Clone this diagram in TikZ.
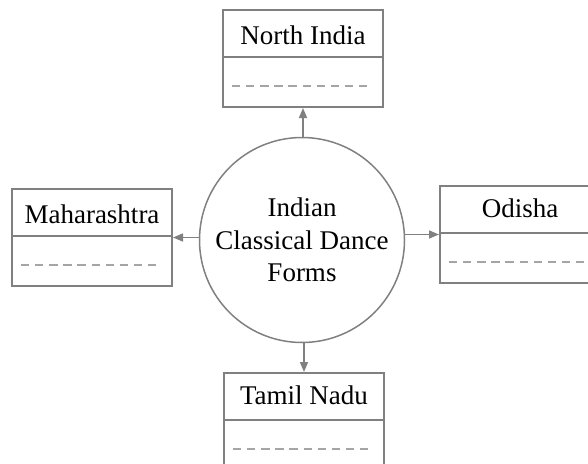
\documentclass[tikz,border=0pt]{standalone}
\usepackage{fontspec}
\setmainfont{Liberation Serif}
\usetikzlibrary{arrows.meta}
\definecolor{linegray}{RGB}{128,128,128}
\definecolor{dashgray}{RGB}{165,165,165}
\begin{document}
\begin{tikzpicture}[x=1pt,y=-1pt,
  boxshape/.style={draw=linegray, line width=2pt, minimum width=160pt, minimum height=97pt, inner sep=0pt, anchor=north west},
  lbl/.style={font=\fontsize{27}{32.5}\selectfont, inner sep=0pt, anchor=base},
  hub/.style={circle, draw=linegray, line width=1.5pt, minimum size=205pt, inner sep=0pt, align=center, font=\fontsize{27}{32.5}\selectfont},
  conn/.style={draw=linegray, line width=1.5pt, -{Triangle[length=10pt,width=8pt]}},
  divider/.style={draw=linegray, line width=2pt},
  dashline/.style={draw=dashgray, line width=1.5pt, dash pattern=on 8.3pt off 5.8pt}
]
\useasboundingbox (0,0) rectangle (588,463);
\clip (0,0) rectangle (588,463);
\node[hub] (c) at (302,240) {Indian\\Classical Dance\\Forms};
\node[boxshape] (n) at (222,9) {};
\node[boxshape] (m) at (11,188) {};
\node[boxshape] (o) at (439,185) {};
\node[boxshape] (t) at (223,372) {};
\foreach \b in {n,m,o,t}{
  \draw[divider] ([yshift=-48pt]\b.north west) -- ([yshift=-48pt]\b.north east);
  \draw[dashline] ([xshift=10pt,yshift=-77pt]\b.north west) -- ++(135,0);
}
\node[lbl] (nl) at ([yshift=-35pt]n.north) {North India};
\node[lbl] (ml) at ([yshift=-35pt]m.north) {Maharashtra};
\node[lbl] (ol) at ([yshift=-32pt]o.north) {Odisha};
\node[lbl] (tl) at ([yshift=-32pt]t.north) {Tamil Nadu};
\draw[conn] (c.north -| n.south) -- (n.south);
\draw[conn] (c.south -| t.north) -- (t.north);
\draw[conn] (c.west |- m.east) -- (m.east);
\draw[conn] (c.east |- o.west) -- (o.west);
\end{tikzpicture}
\end{document}
